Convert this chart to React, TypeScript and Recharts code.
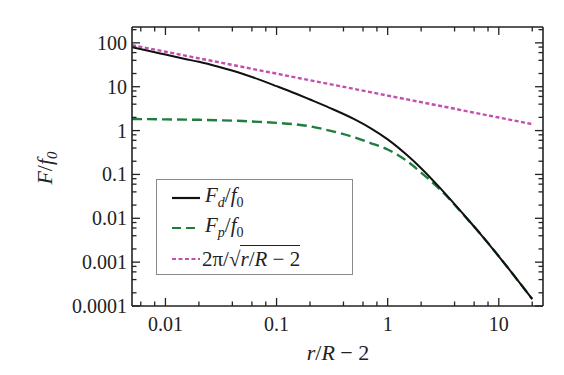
import { Legend, Line, LineChart, XAxis, YAxis } from "recharts";

// r/R - 2 sample points
const xValues = [0.005, 0.007, 0.01, 0.015, 0.02, 0.03, 0.05, 0.07, 0.1, 0.15, 0.2, 0.3, 0.5, 0.7, 1, 1.5, 2, 3, 5, 7, 10, 15, 20];
// F_d / f_0
const dragForce = [80, 66, 54, 43, 37, 28.5, 19.5, 14.5, 10.3, 6.9, 5.1, 3.3, 1.82, 1.14, 0.63, 0.273, 0.139, 0.0474, 0.011, 0.0041, 0.00136, 0.00037, 0.000144];
// F_p / f_0
const pressureForce = [1.83, 1.82, 1.8, 1.78, 1.76, 1.72, 1.65, 1.58, 1.5, 1.38, 1.25, 1.0, 0.7, 0.52, 0.37, 0.2, 0.11, 0.044, 0.0108, 0.0041, 0.00136, 0.00037, 0.000144];
// 2pi / sqrt(r/R - 2)
const asymptote = [88.9, 75.1, 62.8, 51.3, 44.4, 36.3, 28.1, 23.7, 19.9, 16.2, 14.0, 11.5, 8.89, 7.51, 6.28, 5.13, 4.44, 3.63, 2.81, 2.37, 1.99, 1.62, 1.4];

const xMajorTicks = [0.01, 0.1, 1, 10];
const xMajorLabels = ["0.01", "0.1", "1", "10"];
const xMinorTicks = [0.006, 0.008, 0.02, 0.04, 0.06, 0.08, 0.2, 0.4, 0.6, 0.8, 2, 4, 6, 8, 20];
const yMajorTicks = [0.0001, 0.001, 0.01, 0.1, 1, 10, 100];
const yMajorLabels = ["0.0001", "0.001", "0.01", "0.1", "1", "10", "100"];
const yMinorTicks = [
  0.0002, 0.0004, 0.0006, 0.0008, 0.002, 0.004, 0.006, 0.008, 0.02, 0.04, 0.06, 0.08,
  0.2, 0.4, 0.6, 0.8, 2, 4, 6, 8, 20, 40, 60, 80, 200,
];

const data = xValues.map((x, i) => ({
  x,
  drag: dragForce[i],
  pressure: pressureForce[i],
  asym: asymptote[i],
}));

const FONT = "Liberation Serif, Times New Roman, serif";
const AXIS = "#222";
const BLACK = "#111";
const GREEN = "#1f7d3e";
const PINK = "#c24fae";

const xTicks = [...xMinorTicks, ...xMajorTicks].sort((a, b) => a - b);
const yTicks = [...yMinorTicks, ...yMajorTicks].sort((a, b) => a - b);

function XTick(props: any) {
  const { x, y, payload, side } = props;
  const idx = xMajorTicks.indexOf(payload.value);
  const len = idx >= 0 ? 8 : 4.5;
  const dir = side === "bottom" ? -1 : 1;
  return (
    <g>
      <line x1={x} x2={x} y1={y} y2={y + dir * len} stroke={AXIS} strokeWidth={1.3} />
      {side === "bottom" && idx >= 0 && (
        <text x={x} y={y + 25} textAnchor="middle" style={{ fontFamily: FONT, fontSize: 20 }} fill="#222">
          {xMajorLabels[idx]}
        </text>
      )}
    </g>
  );
}

function YTick(props: any) {
  const { x, y, payload, side } = props;
  const idx = yMajorTicks.indexOf(payload.value);
  const len = idx >= 0 ? 8 : 4.5;
  const dir = side === "left" ? 1 : -1;
  return (
    <g>
      <line x1={x} x2={x + dir * len} y1={y} y2={y} stroke={AXIS} strokeWidth={1.3} />
      {side === "left" && idx >= 0 && (
        <text x={x - 5} y={y + 7} textAnchor="end" style={{ fontFamily: FONT, fontSize: 20 }} fill="#222">
          {yMajorLabels[idx]}
        </text>
      )}
    </g>
  );
}

function XTitle() {
  return (
    <text x={330} y={352} textAnchor="middle" style={{ fontFamily: FONT, fontSize: 22 }} fill="#222">
      <tspan fontStyle="italic">r</tspan>
      <tspan>/</tspan>
      <tspan fontStyle="italic">R</tspan>
      <tspan> − 2</tspan>
    </text>
  );
}

function YTitle() {
  return (
    <text
      x={0}
      y={0}
      transform="translate(44 160) rotate(-90)"
      textAnchor="middle"
      style={{ fontFamily: FONT, fontSize: 22 }}
      fill="#222"
    >
      <tspan fontStyle="italic">F</tspan>
      <tspan>/</tspan>
      <tspan fontStyle="italic">f</tspan>
      <tspan fontSize={15} dy={5} fontStyle="italic">0</tspan>
    </text>
  );
}

function Sample({ color, dash }: { color: string; dash?: string }) {
  return (
    <svg width={28} height={10} style={{ marginRight: 5, flex: "none" }}>
      <line x1={0} x2={28} y1={5} y2={5} stroke={color} strokeWidth={2.2} strokeDasharray={dash} />
    </svg>
  );
}

function LegendBox() {
  const row: React.CSSProperties = { display: "flex", alignItems: "center", height: 30 };
  return (
    <div
      style={{
        width: 197,
        height: 96,
        boxSizing: "border-box",
        border: "1.5px solid #8a8a8a",
        background: "#fff",
        padding: "3px 0 0 15px",
        fontFamily: FONT,
        fontSize: 21,
        color: "#222",
        lineHeight: 1,
      }}
    >
      <div style={row}>
        <Sample color={BLACK} />
        <span>
          <i>F</i>
          <sub style={{ fontSize: 14 }}><i>d</i></sub>/<i>f</i>
          <sub style={{ fontSize: 14 }}>0</sub>
        </span>
      </div>
      <div style={row}>
        <Sample color={GREEN} dash="9 5" />
        <span>
          <i>F</i>
          <sub style={{ fontSize: 14 }}><i>p</i></sub>/<i>f</i>
          <sub style={{ fontSize: 14 }}>0</sub>
        </span>
      </div>
      <div style={{ ...row, height: 32 }}>
        <Sample color={PINK} dash="4 2.5" />
        <span style={{ marginLeft: -3 }}>
          2π/√
          <span style={{ borderTop: "1px solid #222", paddingTop: 1 }}>
            <i>r</i>/<i>R</i> − 2
          </span>
        </span>
      </div>
    </div>
  );
}

export default function App() {
  return (
    <LineChart
      width={548}
      height={360}
      data={data}
      margin={{ top: 18, right: 12, bottom: 0, left: 0 }}
    >
      <XAxis
        dataKey="x"
        type="number"
        scale="log"
        domain={[0.005, 25]}
        allowDataOverflow
        ticks={xTicks}
        interval={0}
        height={62}
        tickSize={0}
        tickMargin={0}
        stroke={AXIS}
        strokeWidth={1.6}
        tick={<XTick side="bottom" />}
        label={{ content: () => <XTitle /> }}
      />
      <XAxis
        xAxisId="top"
        orientation="top"
        dataKey="x"
        type="number"
        scale="log"
        domain={[0.005, 25]}
        allowDataOverflow
        ticks={xTicks}
        interval={0}
        height={1}
        tickSize={0}
        tickMargin={0}
        stroke={AXIS}
        strokeWidth={1.6}
        tick={<XTick side="top" />}
      />
      <YAxis
        type="number"
        scale="log"
        domain={[0.0001, 230]}
        allowDataOverflow
        ticks={yTicks}
        interval={0}
        width={124}
        tickSize={0}
        tickMargin={0}
        stroke={AXIS}
        strokeWidth={1.6}
        tick={<YTick side="left" />}
        label={{ content: () => <YTitle /> }}
      />
      <YAxis
        yAxisId="right"
        orientation="right"
        type="number"
        scale="log"
        domain={[0.0001, 230]}
        allowDataOverflow
        ticks={yTicks}
        interval={0}
        width={1}
        tickSize={0}
        tickMargin={0}
        stroke={AXIS}
        strokeWidth={1.6}
        tick={<YTick side="right" />}
      />
      <Legend
        layout="vertical"
        align="center"
        verticalAlign="middle"
        wrapperStyle={{ left: 148, top: 171, width: 197, height: 96 }}
        content={() => <LegendBox />}
      />
      <Line
        type="monotone"
        dataKey="asym"
        xAxisId="top"
        yAxisId="right"
        stroke={PINK}
        strokeWidth={2.4}
        strokeDasharray="4 2.5"
        dot={false}
        isAnimationActive={false}
      />
      <Line
        type="monotone"
        dataKey="pressure"
        stroke={GREEN}
        strokeWidth={2.4}
        strokeDasharray="10 5"
        dot={false}
        isAnimationActive={false}
      />
      <Line
        type="monotone"
        dataKey="drag"
        stroke={BLACK}
        strokeWidth={2}
        dot={false}
        isAnimationActive={false}
      />
    </LineChart>
  );
}
